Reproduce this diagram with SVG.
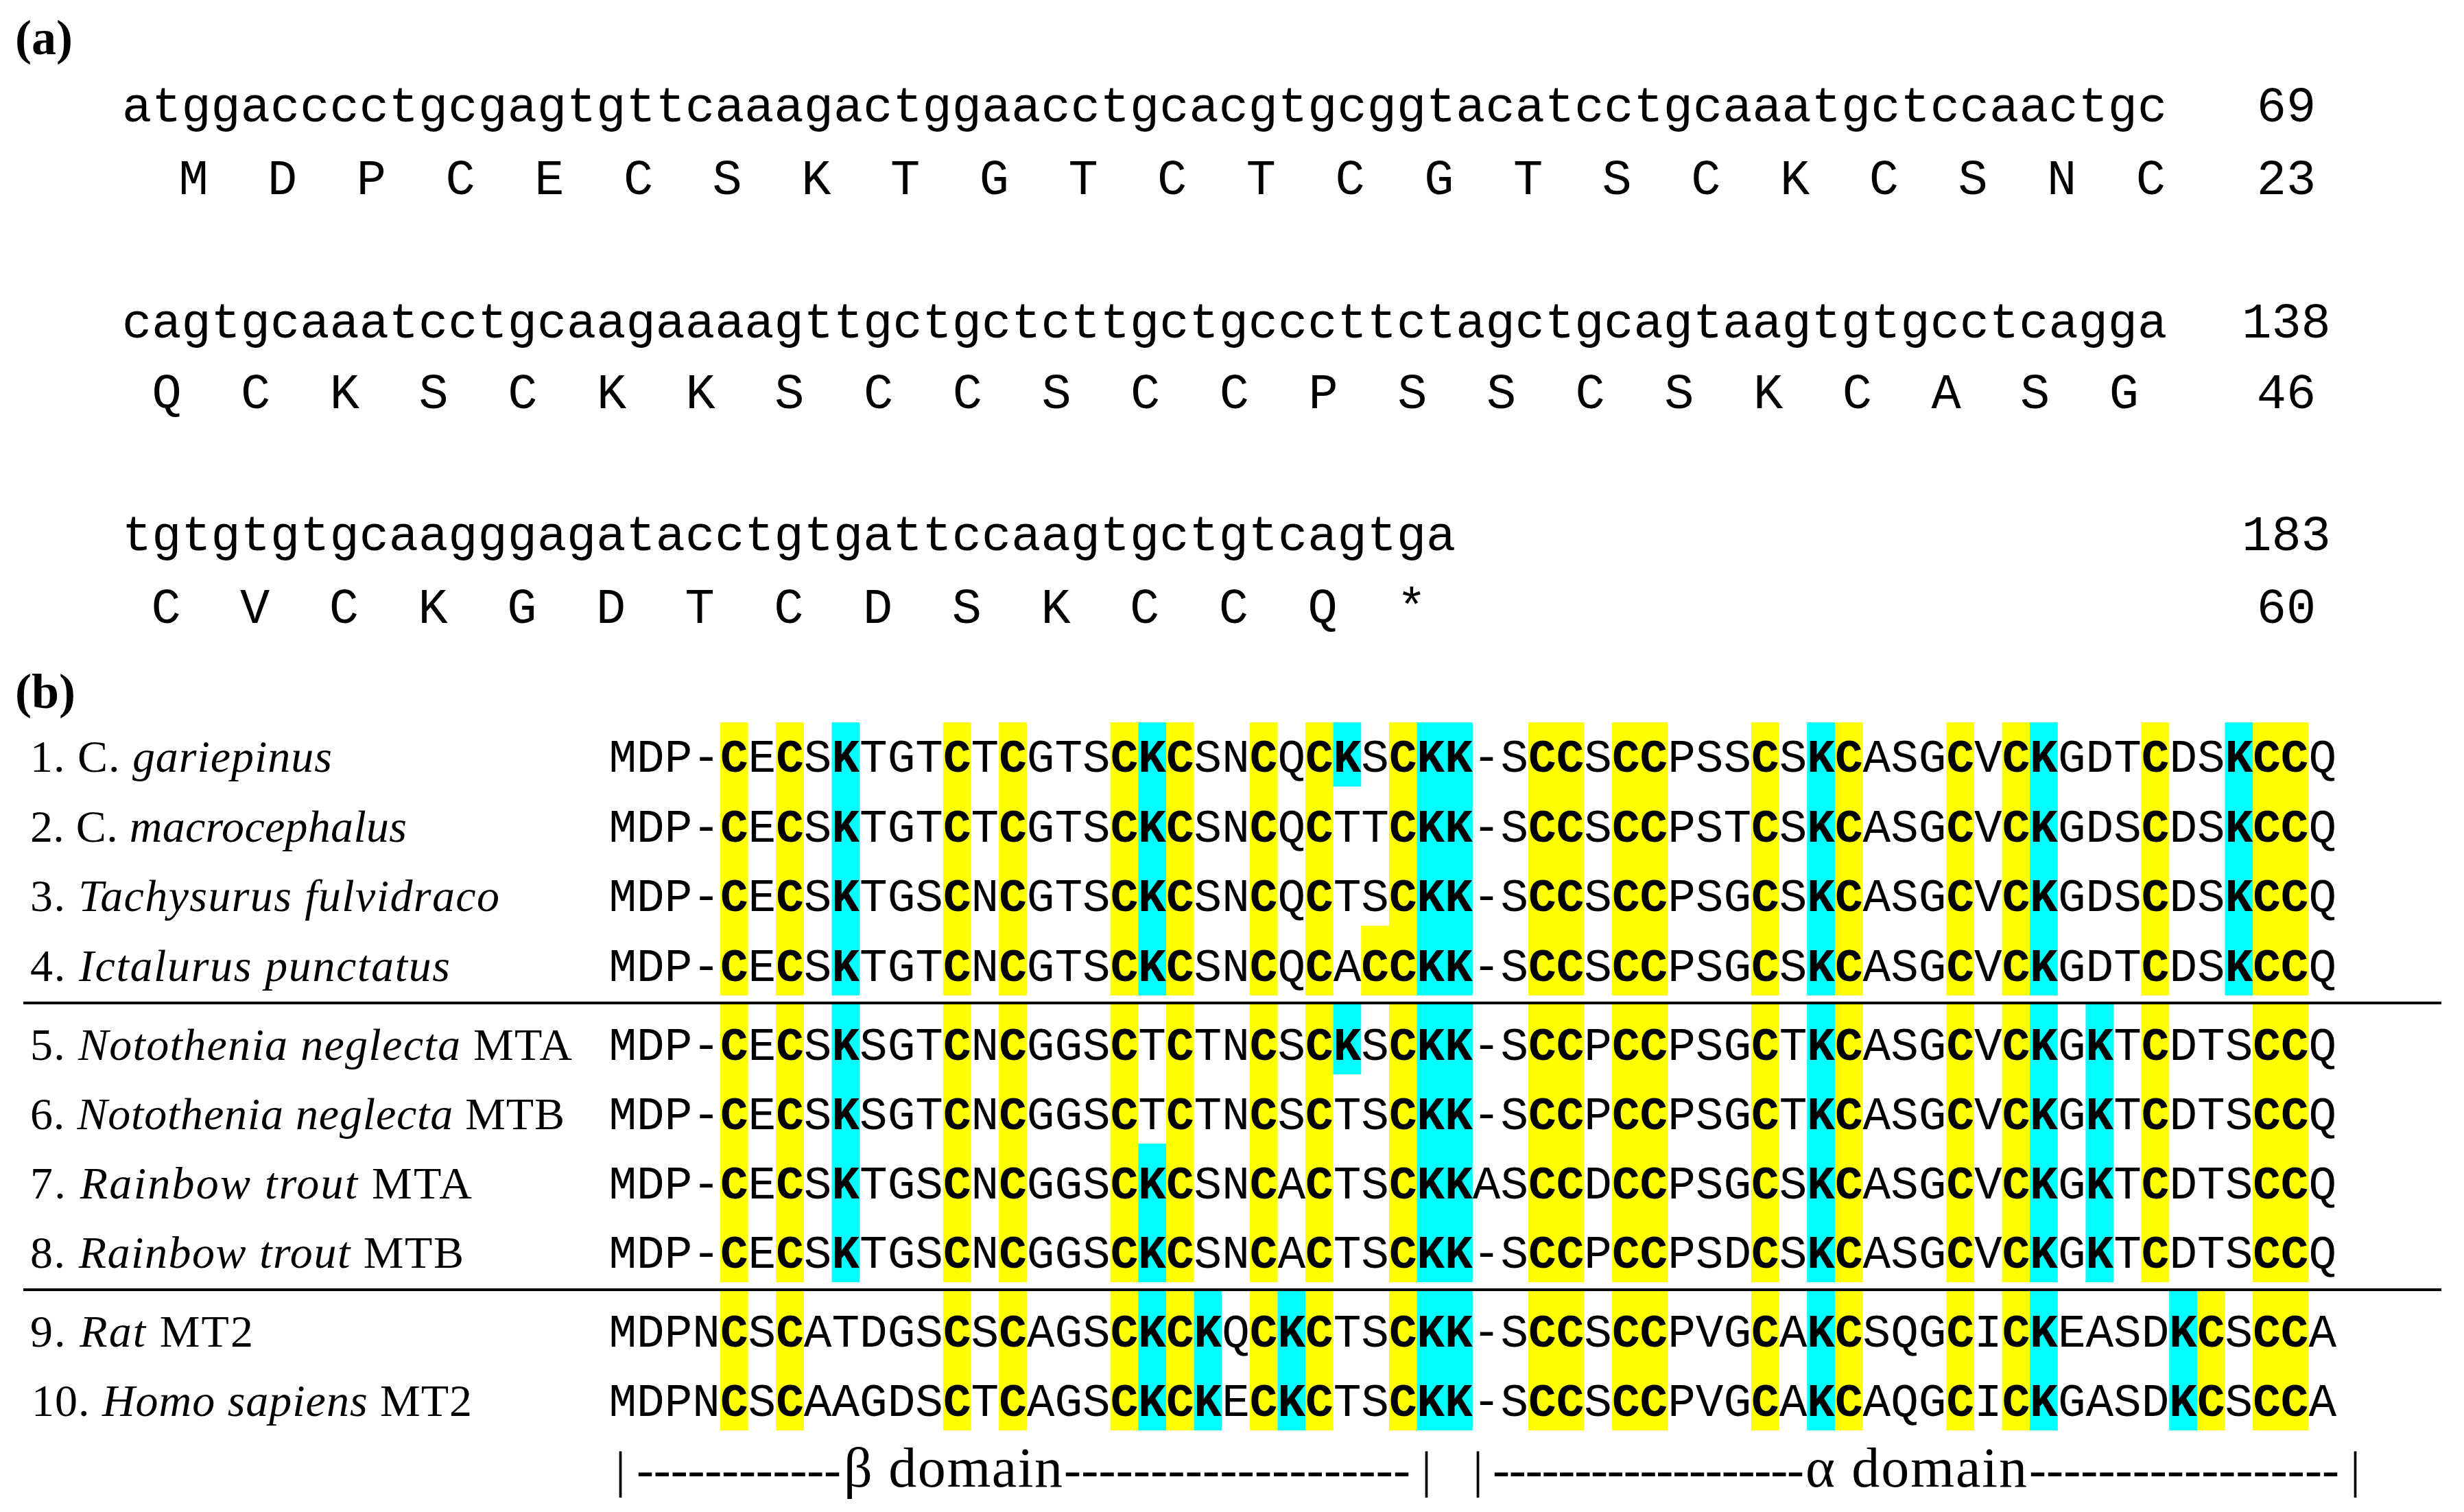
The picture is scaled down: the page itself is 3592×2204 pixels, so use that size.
<svg xmlns="http://www.w3.org/2000/svg" width="3592" height="2204" viewBox="0 0 3592 2204">
<style>
.mono{font-family:"Liberation Mono","Courier New",monospace;fill:#000}
.dna{font-size:72px}
.aa{font-size:72px;text-anchor:middle}
.num{font-size:72px;text-anchor:middle}
.seq{font-size:67.7px}
.seq tspan{font-weight:bold}
.lab{font-family:"Liberation Serif","Times New Roman",serif;font-size:66px;fill:#000}
.it{font-style:italic}
.pl{font-family:"Liberation Serif","Times New Roman",serif;font-size:72px;font-weight:bold}
.dom{font-family:"Liberation Serif","Times New Roman",serif;font-size:75px}
.domw{font-family:"Liberation Serif","Times New Roman",serif;font-size:82px}
.y{fill:#ffff00}
.c{fill:#00ffff}
.sep{stroke:#000;stroke-width:4}
</style>
<rect width="3592" height="2204" fill="#fff"/>

<g id="panel-a">
<text class="pl" x="22" y="79">(a)</text>
<g id="a-row1">
<text class="mono dna" x="178" y="177">atggacccctgcgagtgttcaaagactggaacctgcacgtgcggtacatcctgcaaatgctccaactgc</text>
<text class="mono aa" y="283" x="282 411.7 541.4 671.1 800.8 930.5 1060.2 1189.9 1319.6 1449.3 1579 1708.7 1838.4 1968.1 2097.8 2227.5 2357.2 2486.9 2616.6 2746.3 2876 3005.7 3135.4">MDPCECSKTGTCTCGTSCKCSNC</text>
<text class="mono num" x="3333" y="177">69</text>
<text class="mono num" x="3333" y="283">23</text>
</g>
<g id="a-row2">
<text class="mono dna" x="178" y="492">cagtgcaaatcctgcaagaaaagttgctgctcttgctgcccttctagctgcagtaagtgtgcctcagga</text>
<text class="mono aa" y="595" x="243 372.7 502.4 632.1 761.8 891.5 1021.2 1150.9 1280.6 1410.3 1540 1669.7 1799.4 1929.1 2058.8 2188.5 2318.2 2447.9 2577.6 2707.3 2837 2966.7 3096.4">QCKSCKKSCCSCCPSSCSKCASG</text>
<text class="mono num" x="3333" y="492">138</text>
<text class="mono num" x="3333" y="595">46</text>
</g>
<g id="a-row3">
<text class="mono dna" x="178" y="802">tgtgtgtgcaagggagatacctgtgattccaagtgctgtcagtga</text>
<text class="mono aa" y="908" x="242 371.7 501.4 631.1 760.8 890.5 1020.2 1149.9 1279.6 1409.3 1539 1668.7 1798.4 1928.1 2057.8">CVCKGDTCDSKCCQ*</text>
<text class="mono num" x="3333" y="802">183</text>
<text class="mono num" x="3333" y="908">60</text>
</g>
</g>

<g id="panel-b">
<text class="pl" x="22" y="1032">(b)</text>

<g id="highlights">
<g id="hl-group1">
<rect class="y" x="1050.0" y="1053" width="40.7" height="398"/>
<rect class="y" x="1131.2" y="1053" width="40.7" height="398"/>
<rect class="y" x="1374.9" y="1053" width="40.7" height="398"/>
<rect class="y" x="1456.2" y="1053" width="40.7" height="398"/>
<rect class="y" x="1618.7" y="1053" width="40.7" height="398"/>
<rect class="y" x="1699.9" y="1053" width="40.7" height="398"/>
<rect class="y" x="1821.8" y="1053" width="40.7" height="398"/>
<rect class="y" x="1903.0" y="1053" width="40.7" height="398"/>
<rect class="y" x="2024.9" y="1053" width="40.7" height="398"/>
<rect class="y" x="2228.0" y="1053" width="81.3" height="398"/>
<rect class="y" x="2349.8" y="1053" width="81.3" height="398"/>
<rect class="y" x="2552.9" y="1053" width="40.7" height="398"/>
<rect class="y" x="2674.8" y="1053" width="40.7" height="398"/>
<rect class="y" x="2837.3" y="1053" width="40.7" height="398"/>
<rect class="y" x="2918.5" y="1053" width="40.7" height="398"/>
<rect class="y" x="3121.6" y="1053" width="40.7" height="398"/>
<rect class="y" x="3284.1" y="1053" width="81.3" height="398"/>
<rect class="y" x="1984.2" y="1349.5" width="40.7" height="101.5"/>
<rect class="c" x="1212.5" y="1053" width="40.7" height="398"/>
<rect class="c" x="1659.3" y="1053" width="40.7" height="398"/>
<rect class="c" x="2065.5" y="1053" width="81.3" height="398"/>
<rect class="c" x="2634.2" y="1053" width="40.7" height="398"/>
<rect class="c" x="2959.1" y="1053" width="40.7" height="398"/>
<rect class="c" x="3243.5" y="1053" width="40.7" height="398"/>
<rect class="c" x="1943.6" y="1053" width="40.7" height="93.5"/>
</g>
<g id="hl-group2">
<rect class="y" x="1050.0" y="1464" width="40.7" height="405"/>
<rect class="y" x="1131.2" y="1464" width="40.7" height="405"/>
<rect class="y" x="1374.9" y="1464" width="40.7" height="405"/>
<rect class="y" x="1456.2" y="1464" width="40.7" height="405"/>
<rect class="y" x="1618.7" y="1464" width="40.7" height="405"/>
<rect class="y" x="1699.9" y="1464" width="40.7" height="405"/>
<rect class="y" x="1821.8" y="1464" width="40.7" height="405"/>
<rect class="y" x="1903.0" y="1464" width="40.7" height="405"/>
<rect class="y" x="2024.9" y="1464" width="40.7" height="405"/>
<rect class="y" x="2228.0" y="1464" width="81.3" height="405"/>
<rect class="y" x="2349.8" y="1464" width="81.3" height="405"/>
<rect class="y" x="2552.9" y="1464" width="40.7" height="405"/>
<rect class="y" x="2674.8" y="1464" width="40.7" height="405"/>
<rect class="y" x="2837.3" y="1464" width="40.7" height="405"/>
<rect class="y" x="2918.5" y="1464" width="40.7" height="405"/>
<rect class="y" x="3121.6" y="1464" width="40.7" height="405"/>
<rect class="y" x="3284.1" y="1464" width="81.3" height="405"/>
<rect class="c" x="1212.5" y="1464" width="40.7" height="405"/>
<rect class="c" x="2065.5" y="1464" width="81.3" height="405"/>
<rect class="c" x="2634.2" y="1464" width="40.7" height="405"/>
<rect class="c" x="2959.1" y="1464" width="40.7" height="405"/>
<rect class="c" x="3040.4" y="1464" width="40.7" height="405"/>
<rect class="c" x="1659.3" y="1667" width="40.7" height="202"/>
<rect class="c" x="1943.6" y="1464" width="40.7" height="102"/>
</g>
<g id="hl-group3">
<rect class="y" x="1050.0" y="1882" width="40.7" height="203"/>
<rect class="y" x="1131.2" y="1882" width="40.7" height="203"/>
<rect class="y" x="1374.9" y="1882" width="40.7" height="203"/>
<rect class="y" x="1456.2" y="1882" width="40.7" height="203"/>
<rect class="y" x="1618.7" y="1882" width="40.7" height="203"/>
<rect class="y" x="1699.9" y="1882" width="40.7" height="203"/>
<rect class="y" x="1821.8" y="1882" width="40.7" height="203"/>
<rect class="y" x="1903.0" y="1882" width="40.7" height="203"/>
<rect class="y" x="2024.9" y="1882" width="40.7" height="203"/>
<rect class="y" x="2228.0" y="1882" width="81.3" height="203"/>
<rect class="y" x="2349.8" y="1882" width="81.3" height="203"/>
<rect class="y" x="2552.9" y="1882" width="40.7" height="203"/>
<rect class="y" x="2674.8" y="1882" width="40.7" height="203"/>
<rect class="y" x="2837.3" y="1882" width="40.7" height="203"/>
<rect class="y" x="2918.5" y="1882" width="40.7" height="203"/>
<rect class="y" x="3202.8" y="1882" width="40.7" height="203"/>
<rect class="y" x="3284.1" y="1882" width="81.3" height="203"/>
<rect class="c" x="1659.3" y="1882" width="40.7" height="203"/>
<rect class="c" x="1740.5" y="1882" width="40.7" height="203"/>
<rect class="c" x="1862.4" y="1882" width="40.7" height="203"/>
<rect class="c" x="2065.5" y="1882" width="81.3" height="203"/>
<rect class="c" x="2634.2" y="1882" width="40.7" height="203"/>
<rect class="c" x="2959.1" y="1882" width="40.7" height="203"/>
<rect class="c" x="3162.2" y="1882" width="40.7" height="203"/>
</g>
</g>

<g id="separators">
<line class="sep" x1="34" y1="1462" x2="3559" y2="1462"/>
<line class="sep" x1="34" y1="1880" x2="3559" y2="1880"/>
</g>

<g id="row1">
<text class="lab" x="44" y="1125" textLength="440" lengthAdjust="spacing">1. C. <tspan class="it">gariepinus</tspan></text>
<text class="mono seq" x="887.5" y="1125">MDP-<tspan>C</tspan>E<tspan>C</tspan>S<tspan>K</tspan>TGT<tspan>C</tspan>T<tspan>C</tspan>GTS<tspan>CKC</tspan>SN<tspan>C</tspan>Q<tspan>CK</tspan>S<tspan>CKK</tspan>-S<tspan>CC</tspan>S<tspan>CC</tspan>PSS<tspan>C</tspan>S<tspan>KC</tspan>ASG<tspan>C</tspan>V<tspan>CK</tspan>GDT<tspan>C</tspan>DS<tspan>KCC</tspan>Q</text>
</g>
<g id="row2">
<text class="lab" x="44" y="1226.5" textLength="549" lengthAdjust="spacing">2. C. <tspan class="it">macrocephalus</tspan></text>
<text class="mono seq" x="887.5" y="1226.5">MDP-<tspan>C</tspan>E<tspan>C</tspan>S<tspan>K</tspan>TGT<tspan>C</tspan>T<tspan>C</tspan>GTS<tspan>CKC</tspan>SN<tspan>C</tspan>Q<tspan>C</tspan>TT<tspan>CKK</tspan>-S<tspan>CC</tspan>S<tspan>CC</tspan>PST<tspan>C</tspan>S<tspan>KC</tspan>ASG<tspan>C</tspan>V<tspan>CK</tspan>GDS<tspan>C</tspan>DS<tspan>KCC</tspan>Q</text>
</g>
<g id="row3">
<text class="lab" x="44" y="1328" textLength="684" lengthAdjust="spacing">3. <tspan class="it">Tachysurus fulvidraco</tspan></text>
<text class="mono seq" x="887.5" y="1328">MDP-<tspan>C</tspan>E<tspan>C</tspan>S<tspan>K</tspan>TGS<tspan>C</tspan>N<tspan>C</tspan>GTS<tspan>CKC</tspan>SN<tspan>C</tspan>Q<tspan>C</tspan>TS<tspan>CKK</tspan>-S<tspan>CC</tspan>S<tspan>CC</tspan>PSG<tspan>C</tspan>S<tspan>KC</tspan>ASG<tspan>C</tspan>V<tspan>CK</tspan>GDS<tspan>C</tspan>DS<tspan>KCC</tspan>Q</text>
</g>
<g id="row4">
<text class="lab" x="44" y="1429.5" textLength="612" lengthAdjust="spacing">4. <tspan class="it">Ictalurus punctatus</tspan></text>
<text class="mono seq" x="887.5" y="1429.5">MDP-<tspan>C</tspan>E<tspan>C</tspan>S<tspan>K</tspan>TGT<tspan>C</tspan>N<tspan>C</tspan>GTS<tspan>CKC</tspan>SN<tspan>C</tspan>Q<tspan>C</tspan>A<tspan>CCKK</tspan>-S<tspan>CC</tspan>S<tspan>CC</tspan>PSG<tspan>C</tspan>S<tspan>KC</tspan>ASG<tspan>C</tspan>V<tspan>CK</tspan>GDT<tspan>C</tspan>DS<tspan>KCC</tspan>Q</text>
</g>
<g id="row5">
<text class="lab" x="44" y="1545" textLength="790" lengthAdjust="spacing">5. <tspan class="it">Notothenia neglecta</tspan> MTA</text>
<text class="mono seq" x="887.5" y="1545">MDP-<tspan>C</tspan>E<tspan>C</tspan>S<tspan>K</tspan>SGT<tspan>C</tspan>N<tspan>C</tspan>GGS<tspan>C</tspan>T<tspan>C</tspan>TN<tspan>C</tspan>S<tspan>CK</tspan>S<tspan>CKK</tspan>-S<tspan>CC</tspan>P<tspan>CC</tspan>PSG<tspan>C</tspan>T<tspan>KC</tspan>ASG<tspan>C</tspan>V<tspan>CK</tspan>G<tspan>K</tspan>T<tspan>C</tspan>DTS<tspan>CC</tspan>Q</text>
</g>
<g id="row6">
<text class="lab" x="44" y="1646" textLength="779" lengthAdjust="spacing">6. <tspan class="it">Notothenia neglecta</tspan> MTB</text>
<text class="mono seq" x="887.5" y="1646">MDP-<tspan>C</tspan>E<tspan>C</tspan>S<tspan>K</tspan>SGT<tspan>C</tspan>N<tspan>C</tspan>GGS<tspan>C</tspan>T<tspan>C</tspan>TN<tspan>C</tspan>S<tspan>C</tspan>TS<tspan>CKK</tspan>-S<tspan>CC</tspan>P<tspan>CC</tspan>PSG<tspan>C</tspan>T<tspan>KC</tspan>ASG<tspan>C</tspan>V<tspan>CK</tspan>G<tspan>K</tspan>T<tspan>C</tspan>DTS<tspan>CC</tspan>Q</text>
</g>
<g id="row7">
<text class="lab" x="44" y="1747" textLength="644" lengthAdjust="spacing">7. <tspan class="it">Rainbow trout</tspan> MTA</text>
<text class="mono seq" x="887.5" y="1747">MDP-<tspan>C</tspan>E<tspan>C</tspan>S<tspan>K</tspan>TGS<tspan>C</tspan>N<tspan>C</tspan>GGS<tspan>CKC</tspan>SN<tspan>C</tspan>A<tspan>C</tspan>TS<tspan>CKK</tspan>AS<tspan>CC</tspan>D<tspan>CC</tspan>PSG<tspan>C</tspan>S<tspan>KC</tspan>ASG<tspan>C</tspan>V<tspan>CK</tspan>G<tspan>K</tspan>T<tspan>C</tspan>DTS<tspan>CC</tspan>Q</text>
</g>
<g id="row8">
<text class="lab" x="44" y="1848" textLength="632" lengthAdjust="spacing">8. <tspan class="it">Rainbow trout</tspan> MTB</text>
<text class="mono seq" x="887.5" y="1848">MDP-<tspan>C</tspan>E<tspan>C</tspan>S<tspan>K</tspan>TGS<tspan>C</tspan>N<tspan>C</tspan>GGS<tspan>CKC</tspan>SN<tspan>C</tspan>A<tspan>C</tspan>TS<tspan>CKK</tspan>-S<tspan>CC</tspan>P<tspan>CC</tspan>PSD<tspan>C</tspan>S<tspan>KC</tspan>ASG<tspan>C</tspan>V<tspan>CK</tspan>G<tspan>K</tspan>T<tspan>C</tspan>DTS<tspan>CC</tspan>Q</text>
</g>
<g id="row9">
<text class="lab" x="44" y="1963" textLength="325" lengthAdjust="spacing">9. <tspan class="it">Rat</tspan> MT2</text>
<text class="mono seq" x="887.5" y="1963">MDPN<tspan>C</tspan>S<tspan>C</tspan>ATDGS<tspan>C</tspan>S<tspan>C</tspan>AGS<tspan>CKCK</tspan>Q<tspan>CKC</tspan>TS<tspan>CKK</tspan>-S<tspan>CC</tspan>S<tspan>CC</tspan>PVG<tspan>C</tspan>A<tspan>KC</tspan>SQG<tspan>C</tspan>I<tspan>CK</tspan>EASD<tspan>KC</tspan>S<tspan>CC</tspan>A</text>
</g>
<g id="row10">
<text class="lab" x="46" y="2064" textLength="642" lengthAdjust="spacing">10. <tspan class="it">Homo sapiens</tspan> MT2</text>
<text class="mono seq" x="887.5" y="2064">MDPN<tspan>C</tspan>S<tspan>C</tspan>AAGDS<tspan>C</tspan>T<tspan>C</tspan>AGS<tspan>CKCK</tspan>E<tspan>CKC</tspan>TS<tspan>CKK</tspan>-S<tspan>CC</tspan>S<tspan>CC</tspan>PVG<tspan>C</tspan>A<tspan>KC</tspan>AQG<tspan>C</tspan>I<tspan>CK</tspan>GASD<tspan>KC</tspan>S<tspan>CC</tspan>A</text>
</g>

<g id="domains">
<text class="dom" x="897" y="2167">|</text>
<text class="dom" x="928" y="2167" textLength="298" lengthAdjust="spacing">------------</text>
<text class="domw" x="1230" y="2167" textLength="319" lengthAdjust="spacing">β domain</text>
<text class="dom" x="1551" y="2167" textLength="505" lengthAdjust="spacing">--------------------</text>
<text class="dom" x="2072" y="2167">|</text>
<text class="dom" x="2147" y="2167">|</text>
<text class="dom" x="2176" y="2167" textLength="454" lengthAdjust="spacing">-------------------</text>
<text class="domw" x="2632" y="2167" textLength="323" lengthAdjust="spacing">α domain</text>
<text class="dom" x="2958" y="2167" textLength="452" lengthAdjust="spacing">------------------</text>
<text class="dom" x="3426" y="2167">|</text>
</g>
</g>
</svg>
